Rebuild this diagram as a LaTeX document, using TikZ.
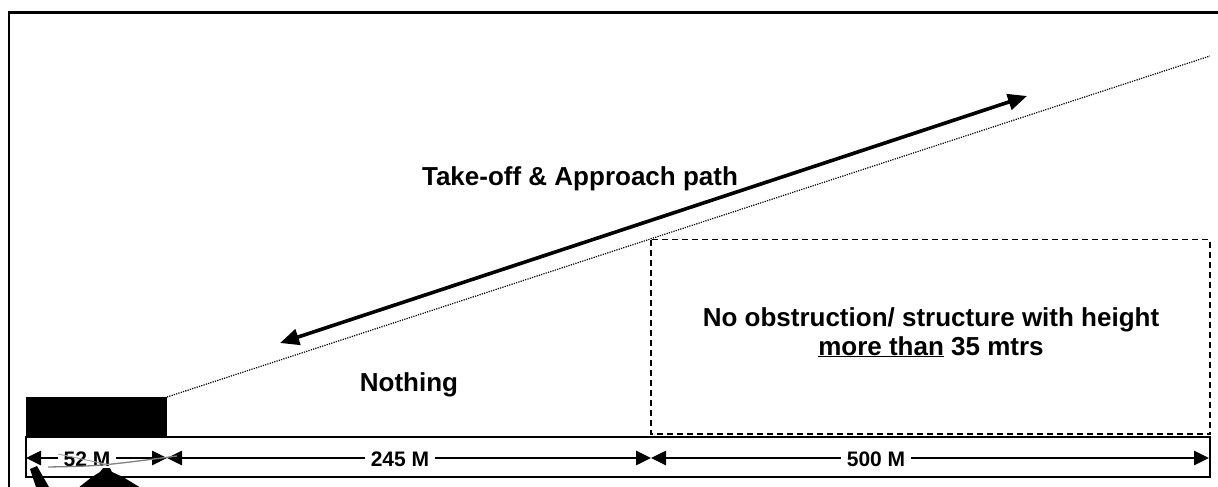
\documentclass[tikz,border=0pt]{standalone}
\usepackage{fontspec}
\setmainfont{Liberation Sans}
\usetikzlibrary{arrows.meta}
\begin{document}
\begin{tikzpicture}[x=1pt,y=-1pt,
  bigtext/.style={font=\fontsize{26}{30}\selectfont\bfseries, inner sep=0pt, anchor=base},
  dimtext/.style={font=\fontsize{21}{24}\selectfont\bfseries, fill=white, inner xsep=6pt, inner ysep=1pt, anchor=base},
  dimarrow/.style={line width=2.6pt, {Triangle[length=15pt,width=14pt]}-{Triangle[length=15pt,width=14pt]}},
  patharrow/.style={line width=3.6pt, {Triangle[length=19pt,width=16pt]}-{Triangle[length=19pt,width=16pt]}},
  frameline/.style={line width=2.4pt},
  slopeline/.style={line width=1.2pt, dash pattern=on 1.2pt off 1.2pt},
  zone/.style={line width=1.8pt, dash pattern=on 6pt off 4pt}]
\useasboundingbox (0,0) rectangle (1218,487);
% outer frame (cropped)
\draw[frameline] (9,495) -- (9,12.5) -- (1225,12.5);
% helipad block
\fill[black] (26,397) rectangle (167,436);
% ground strip
\draw[frameline] (26,437) rectangle (1210,477);
% slope line
\coordinate (s0) at (167,397);
\coordinate (s1) at (1210,56);
\draw[slopeline] (s0) -- (s1);
% take-off / approach arrow
\coordinate (a0) at (280,343);
\coordinate (a1) at (1027,96);
\draw[patharrow] (a0) -- (a1);
\node[bigtext] (tap) at (580,185) {Take-off \& Approach path};
% zone box
\draw[zone] (651,239.5) rectangle (1210,434);
\node[bigtext, align=center] (obs1) at (931,326) {No obstruction/ structure with height};
\node[bigtext] (obs2) at (931,355) {\underline{more than} 35 mtrs};
\node[bigtext] (nothing) at (409,391) {Nothing};
% dimension arrows
\coordinate (d0) at (26,458);
\coordinate (d1) at (167,458);
\coordinate (d2) at (651,458);
\coordinate (d3) at (1209,458);
\draw[dimarrow] (d0) -- (d1);
\draw[dimarrow] (d1) -- (d2);
\draw[dimarrow] (d2) -- (d3);
\node[dimtext] (l52) at (87,466) {52 M};
\node[dimtext] (l245) at (400,466) {245 M};
\node[dimtext] (l500) at (876,466) {500 M};
% helicopter silhouette (cropped)
\fill[black] (30,469) -- (37,466) -- (49,487) -- (36,487) -- cycle;
\fill[black] (78,488) -- (92,477) -- (100,472) -- (103,468) -- (110,468) -- (112,472) -- (123,477) -- (141,488) -- cycle;
\draw[gray, line width=1.3pt] (48,467) .. controls (100,466) .. (177,456);
\draw[gray!70, line width=1pt] (58,454) -- (110,465);
\end{tikzpicture}
\end{document}
